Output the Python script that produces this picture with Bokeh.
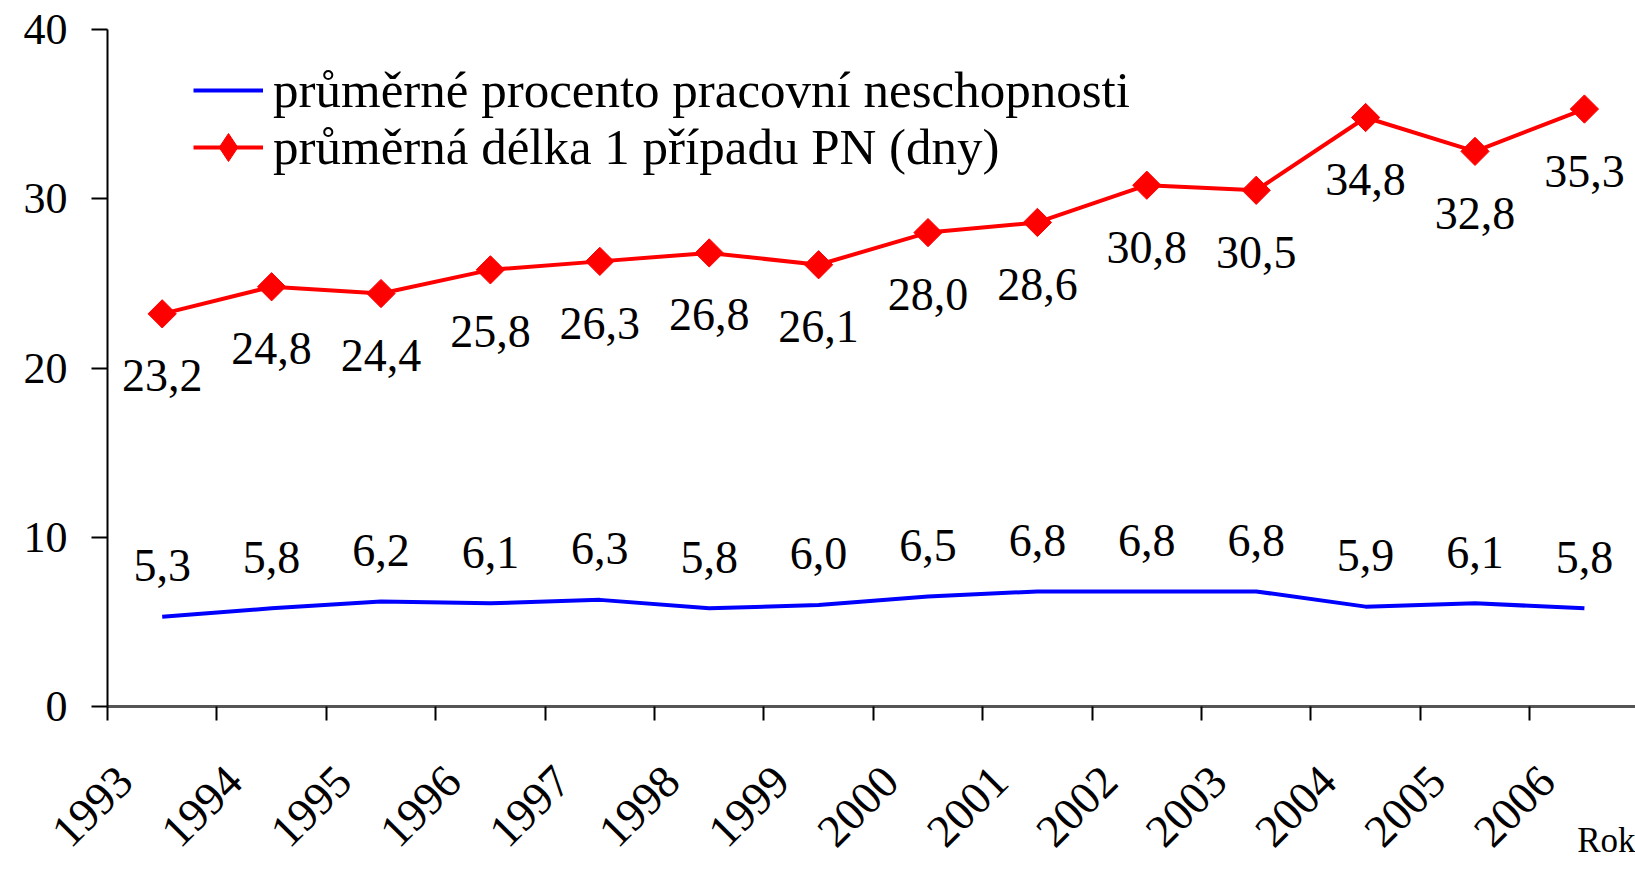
import math
from bokeh.plotting import figure
from bokeh.models import (ColumnDataSource, FixedTicker, Legend, LegendItem,
                          Range1d)
from bokeh.core.properties import value
from bokeh.embed import file_html
from bokeh.resources import INLINE

# ---- data -------------------------------------------------------------
years = ["1993", "1994", "1995", "1996", "1997", "1998", "1999",
         "2000", "2001", "2002", "2003", "2004", "2005", "2006"]
pn_percent = [5.3, 5.8, 6.2, 6.1, 6.3, 5.8, 6.0, 6.5, 6.8, 6.8, 6.8, 5.9, 6.1, 5.8]
pn_days = [23.2, 24.8, 24.4, 25.8, 26.3, 26.8, 26.1, 28.0, 28.6, 30.8, 30.5, 34.8, 32.8, 35.3]
y_ticks = [0, 10, 20, 30, 40]
label_blue = "průměrné procento pracovní neschopnosti"
label_red = "průměrná délka 1 případu PN (dny)"
x_title = "Rok"

FONT = "Liberation Serif"


def fmt(v):
    return f"{v:.1f}".replace(".", ",")


n = len(years)
xc = [i + 0.5 for i in range(n)]            # category centres
lab_pos = [i + 0.15625 for i in range(n)]   # tick-label anchors
src = ColumnDataSource(dict(
    x=xc, pct=pn_percent, days=pn_days,
    pct_lbl=[fmt(v) for v in pn_percent],
    days_lbl=[fmt(v) for v in pn_days],
))

p = figure(width=1635, height=882,
           x_range=Range1d(0, 13.967), y_range=Range1d(0, 40),
           output_backend="svg", toolbar_location=None,
           min_border_left=107, min_border_right=0,
           min_border_top=29, min_border_bottom=176)
p.outline_line_color = None
p.xgrid.visible = False
p.ygrid.visible = False
p.background_fill_color = "white"
# off-screen range used only for the legend's diamond sample
p.extra_y_ranges = {"legend_only": Range1d(-1000, -999)}

# x axis: boundary ticks as minor ticks, labels on major ticks
xa = p.xaxis[0]
xa.ticker = FixedTicker(ticks=lab_pos, minor_ticks=list(range(n + 1)))
xa.major_label_overrides = {pos: yr for pos, yr in zip(lab_pos, years)}
xa.major_tick_line_color = None
xa.major_tick_out = 14
xa.major_tick_in = 0
xa.minor_tick_line_color = "black"
xa.minor_tick_line_width = 2
xa.minor_tick_out = 14
xa.minor_tick_in = 0
xa.axis_line_color = "#555555"
xa.axis_line_width = 3
xa.major_label_orientation = math.pi / 4
xa.major_label_standoff = 53
xa.major_label_text_font = FONT
xa.major_label_text_font_size = "46px"
xa.major_label_text_color = "black"
xa.axis_label = x_title
xa.axis_label_align = "end"
xa.axis_label_orientation = 0.0001
xa.axis_label_standoff = -23
xa.axis_label_text_font = FONT
xa.axis_label_text_font_size = "35px"
xa.axis_label_text_font_style = "normal"
xa.axis_label_text_color = "black"

ya = p.yaxis[0]
ya.ticker = FixedTicker(ticks=y_ticks)
ya.minor_tick_line_color = None
ya.major_tick_out = 16
ya.major_tick_in = 0
ya.major_tick_line_width = 2
ya.major_tick_line_color = "black"
ya.axis_line_color = "black"
ya.axis_line_width = 2
ya.major_label_standoff = 24
ya.major_label_text_font = FONT
ya.major_label_text_font_size = "44px"
ya.major_label_text_color = "black"

blue = p.line("x", "pct", source=src, line_color="#0000FF", line_width=4)
red = p.line("x", "days", source=src, line_color="#FF0000", line_width=4)
dia = p.scatter("x", "days", source=src, marker="square", size=20,
                angle=math.pi / 4, fill_color="#FF0000", line_color="#FF0000")
# legend-only diamond (its points fall outside the visible range)
dia_leg = p.scatter("x", "days", source=src, marker="diamond",
                    fill_color="#FF0000", line_color="#FF0000",
                    y_range_name="legend_only")

p.text("x", "days", text="days_lbl", source=src, y_offset=62,
       text_align="center", text_baseline="middle",
       text_font=value(FONT), text_font_size="46px", text_color="black")
p.text("x", "pct", text="pct_lbl", source=src, y_offset=-51,
       text_align="center", text_baseline="middle",
       text_font=value(FONT), text_font_size="46px", text_color="black")

leg_style = dict(glyph_width=70, glyph_height=70,
                 label_standoff=10, padding=0, margin=0, spacing=0,
                 border_line_color=None, background_fill_alpha=0,
                 label_text_font=FONT, label_text_font_size="51px",
                 label_text_color="black")
legend1 = Legend(items=[LegendItem(label=label_blue, renderers=[blue])],
                 location=(86, 581), **leg_style)
legend2 = Legend(items=[LegendItem(label=label_red, renderers=[red, dia_leg])],
                 location=(86, 524), **leg_style)
p.add_layout(legend1)
p.add_layout(legend2)

open("out.html", "w").write(file_html(p, INLINE))
